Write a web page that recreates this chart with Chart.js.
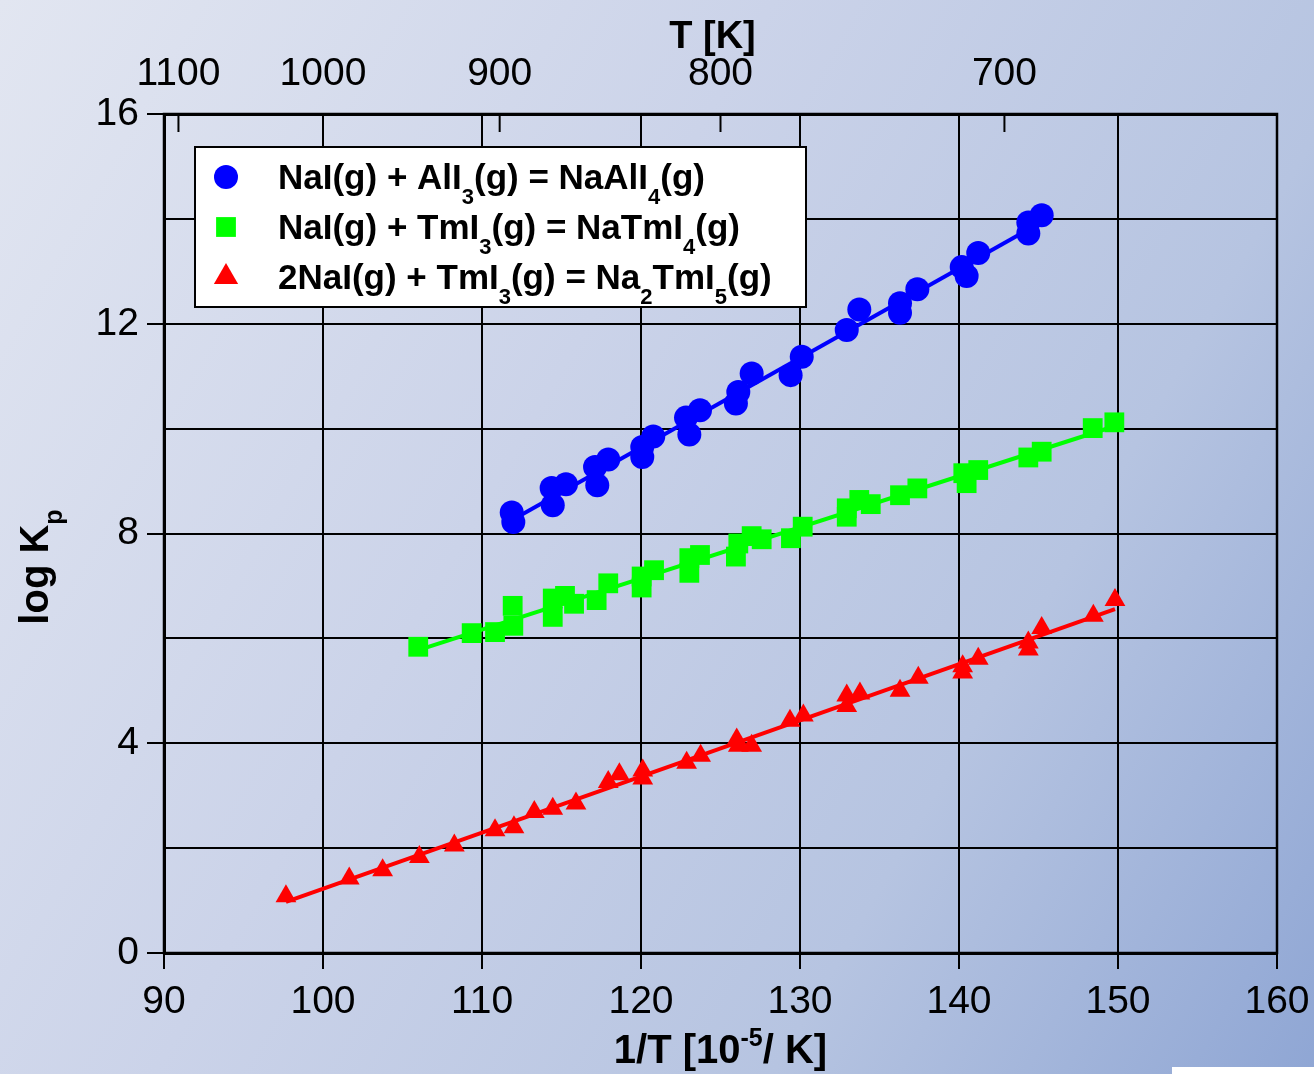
<!DOCTYPE html>
<html>
<head>
<meta charset="utf-8">
<script src="https://cdn.jsdelivr.net/npm/chart.js@4.4.1/dist/chart.umd.min.js"></script>
<style>
  html, body { margin: 0; padding: 0; }
  body {
    width: 1314px; height: 1074px; overflow: hidden; position: relative;
    background: linear-gradient(120deg, #e2e6f1 0%, #cbd3e9 40%, #b6c4e1 72%, #8fa6d4 100%);
  }
  #wrap { position: absolute; left: 0; top: 0; width: 1314px; height: 1074px; }
  #patch { position: absolute; left: 1172px; top: 1067px; width: 142px; height: 7px; background: #fff; }
</style>
</head>
<body>
<div id="wrap"><canvas id="myChart"></canvas></div>
<div id="patch"></div>
<script>
// x values are 1/T in 10^-5 K^-1, y values are log Kp
const alX = [111.87, 111.97, 114.38, 114.45, 115.28, 117.11, 117.25, 117.94, 120.08, 120.08,
  120.77, 122.83, 123.04, 123.71, 125.97, 126.12, 126.96, 129.41, 130.11, 132.94,
  133.73, 136.29, 136.29, 137.38, 140.17, 140.48, 141.21, 144.36, 144.36, 145.2];
const alY = [8.40, 8.22, 8.87, 8.54, 8.94, 9.27, 8.92, 9.41, 9.46, 9.65,
  9.85, 10.21, 9.89, 10.35, 10.48, 10.70, 11.05, 11.02, 11.37, 11.88,
  12.27, 12.21, 12.39, 12.66, 13.08, 12.91, 13.35, 13.72, 13.93, 14.07];

const tmX = [105.99, 109.35, 110.82, 111.93, 111.97, 114.45, 114.45, 115.22, 115.79, 117.21,
  117.94, 120.04, 120.04, 120.82, 123.04, 123.04, 123.71, 125.97, 126.12, 126.96,
  127.59, 129.43, 130.17, 132.94, 132.94, 133.73, 134.45, 136.29, 137.38, 140.48,
  140.27, 141.21, 144.36, 145.2, 148.41, 149.77];
const tmY = [5.84, 6.10, 6.12, 6.62, 6.24, 6.41, 6.76, 6.81, 6.66, 6.73,
  7.05, 6.97, 7.18, 7.30, 7.25, 7.53, 7.59, 7.56, 7.81, 7.95,
  7.89, 7.91, 8.13, 8.32, 8.48, 8.64, 8.56, 8.73, 8.86, 8.96,
  9.15, 9.21, 9.45, 9.56, 10.01, 10.12];

const na2X = [97.67, 101.65, 103.75, 106.06, 108.26, 110.82, 112.01, 113.29, 114.45, 115.91,
  117.94, 118.64, 120.11, 120.11, 122.87, 123.75, 126.02, 126.12, 126.96, 129.37,
  130.21, 132.94, 132.94, 133.77, 136.29, 137.44, 140.23, 140.23, 141.21, 144.36,
  144.36, 145.2, 148.45, 149.81];
const na2Y = [1.08, 1.42, 1.58, 1.83, 2.05, 2.34, 2.40, 2.69, 2.75, 2.85,
  3.26, 3.41, 3.48, 3.33, 3.63, 3.76, 4.07, 3.95, 3.95, 4.43,
  4.53, 4.91, 4.71, 4.95, 5.00, 5.25, 5.47, 5.35, 5.61, 5.92,
  5.79, 6.20, 6.43, 6.73];

// top axis: temperatures in K
const tempTicks = [1100, 1000, 900, 800, 700];

// legend labels: [text, 0 normal / 1 subscript / -1 superscript]
const labelAl = [['NaI(g) + AlI', 0], ['3', 1], ['(g) = NaAlI', 0], ['4', 1], ['(g)', 0]];
const labelTm = [['NaI(g) + TmI', 0], ['3', 1], ['(g) = NaTmI', 0], ['4', 1], ['(g)', 0]];
const labelNa2 = [['2NaI(g) + TmI', 0], ['3', 1], ['(g) = Na', 0], ['2', 1], ['TmI', 0], ['5', 1], ['(g)', 0]];

const FONT = '"Liberation Sans", Arial, sans-serif';
Chart.defaults.font.family = FONT;

const toPoints = (xs, ys) => xs.map((x, i) => ({ x: x, y: ys[i] }));

// least squares line across the range of the points
function fitLine(xs, ys) {
  const n = xs.length;
  const mx = xs.reduce((a, b) => a + b, 0) / n;
  const my = ys.reduce((a, b) => a + b, 0) / n;
  let sxy = 0, sxx = 0;
  for (let i = 0; i < n; i++) {
    sxy += (xs[i] - mx) * (ys[i] - my);
    sxx += (xs[i] - mx) * (xs[i] - mx);
  }
  const b = sxy / sxx, a = my - b * mx;
  const x0 = Math.min(...xs), x1 = Math.max(...xs);
  return [{ x: x0, y: a + b * x0 }, { x: x1, y: a + b * x1 }];
}

function drawRich(ctx, parts, x, y, size, subDy, supDy) {
  parts.forEach(([t, m]) => {
    ctx.font = 'bold ' + (m ? Math.round(size * 0.62) : size) + 'px ' + FONT;
    const dy = m === 1 ? subDy : (m === -1 ? supDy : 0);
    ctx.fillText(t, x, y + dy);
    x += ctx.measureText(t).width;
  });
}
function richWidth(ctx, parts, size) {
  let w = 0;
  parts.forEach(([t, m]) => {
    ctx.font = 'bold ' + (m ? Math.round(size * 0.62) : size) + 'px ' + FONT;
    w += ctx.measureText(t).width;
  });
  return w;
}

const decor = {
  id: 'decor',
  afterDraw(chart) {
    const { ctx, chartArea: a, scales } = chart;
    ctx.save();
    ctx.strokeStyle = '#000';
    ctx.fillStyle = '#000';

    // inward ticks of the temperature axis
    ctx.lineWidth = 2;
    tempTicks.forEach(t => {
      const px = scales.x2.getPixelForValue(1e5 / t);
      ctx.beginPath();
      ctx.moveTo(px, a.top);
      ctx.lineTo(px, a.top + 18);
      ctx.stroke();
    });

    // frame
    ctx.lineWidth = 2.5;
    ctx.strokeRect(a.left, a.top, a.right - a.left, a.bottom - a.top);

    // legend box
    const lx = 195, ly = 147, lw = 611, lh = 160;
    ctx.fillStyle = '#fff';
    ctx.fillRect(lx, ly, lw, lh);
    ctx.lineWidth = 2;
    ctx.strokeRect(lx, ly, lw, lh);
    const rows = [
      { parts: labelAl, color: '#0000ff', style: 'circle', r: 12, dy: 0 },
      { parts: labelTm, color: '#00ff00', style: 'rect', r: 14, dy: 0 },
      { parts: labelNa2, color: '#ff0000', style: 'triangle', r: 14, dy: 0 }
    ];
    rows.forEach((row, i) => {
      const cy = ly + 30 + i * 50;
      ctx.fillStyle = row.color;
      Chart.helpers.drawPoint(ctx, { pointStyle: row.style, radius: row.r, rotation: 0, borderWidth: 0 }, 226, cy + row.dy);
      ctx.fillStyle = '#000';
      ctx.textBaseline = 'alphabetic';
      ctx.textAlign = 'left';
      drawRich(ctx, row.parts, 278, cy + 12, 35, 15, -15);
    });

    // axis titles
    ctx.fillStyle = '#000';
    ctx.textBaseline = 'alphabetic';
    ctx.textAlign = 'left';
    const cx = (a.left + a.right) / 2;
    const topTitle = [['T [K]', 0]];
    drawRich(ctx, topTitle, cx - 8 - richWidth(ctx, topTitle, 38) / 2, 48, 38, 0, 0);
    const xTitle = [['1/T [10', 0], ['-5', -1], ['/ K]', 0]];
    drawRich(ctx, xTitle, cx - richWidth(ctx, xTitle, 40) / 2, 1063, 40, 0, -17);
    const yTitle = [['log K', 0], ['p', 1]];
    ctx.translate(48, 567);
    ctx.rotate(-Math.PI / 2);
    drawRich(ctx, yTitle, -richWidth(ctx, yTitle, 40) / 2, 0, 40, 14, 0);

    ctx.restore();
  }
};

const tickFont = { family: FONT, size: 39 };

new Chart(document.getElementById('myChart'), {
  type: 'scatter',
  data: {
    datasets: [
      { data: toPoints(alX, alY), backgroundColor: '#0000ff', pointStyle: 'circle', pointRadius: 12, borderWidth: 0, order: 1 },
      { data: toPoints(tmX, tmY), backgroundColor: '#00ff00', pointStyle: 'rect', pointRadius: 14, borderWidth: 0, order: 1 },
      { data: toPoints(na2X, na2Y), backgroundColor: '#ff0000', pointStyle: 'triangle', pointRadius: 12, borderWidth: 0, order: 1 },
      { data: fitLine(alX, alY), showLine: true, borderColor: '#0000ff', borderWidth: 4, pointRadius: 0, order: 2 },
      { data: fitLine(tmX, tmY), showLine: true, borderColor: '#00ff00', borderWidth: 4, pointRadius: 0, order: 2 },
      { data: fitLine(na2X, na2Y), showLine: true, borderColor: '#ff0000', borderWidth: 4, pointRadius: 0, order: 2 }
    ]
  },
  options: {
    responsive: true,
    maintainAspectRatio: false,
    animation: false,
    events: [],
    layout: { padding: { left: 0, right: 37, top: 0, bottom: 0 } },
    plugins: { legend: { display: false }, tooltip: { enabled: false } },
    scales: {
      x: {
        type: 'linear', position: 'bottom', min: 90, max: 160,
        afterFit: s => { s.height = 121; s.paddingLeft = 0; s.paddingRight = 0; },
        ticks: { stepSize: 10, color: '#000', font: tickFont, padding: 10, maxRotation: 0 },
        grid: { color: '#000', lineWidth: 2, tickLength: 16, tickWidth: 2, tickColor: '#000' },
        border: { color: '#000', width: 3 }
      },
      x2: {
        type: 'linear', position: 'top', min: 90, max: 160,
        afterFit: s => { s.height = 114; s.paddingLeft = 0; s.paddingRight = 0; },
        afterBuildTicks: s => { s.ticks = tempTicks.map(t => ({ value: 1e5 / t })); },
        ticks: { color: '#000', font: tickFont, padding: 16, maxRotation: 0, callback: v => Math.round(1e5 / v) },
        grid: { drawOnChartArea: false, drawTicks: false },
        border: { color: '#000', width: 3 }
      },
      y: {
        min: 0, max: 16,
        afterFit: s => { s.width = 164; s.paddingTop = 0; s.paddingBottom = 0; },
        ticks: { stepSize: 2, autoSkip: false, color: '#000', font: tickFont, padding: 8,
          callback: v => (v % 4 === 0 ? v : '') },
        grid: { color: '#000', lineWidth: 2, tickLength: 17, tickWidth: 2,
          tickColor: c => (c.tick && c.tick.value % 4 === 0 ? '#000' : 'rgba(0,0,0,0)') },
        border: { color: '#000', width: 3 }
      }
    }
  },
  plugins: [decor]
});
</script>
</body>
</html>
